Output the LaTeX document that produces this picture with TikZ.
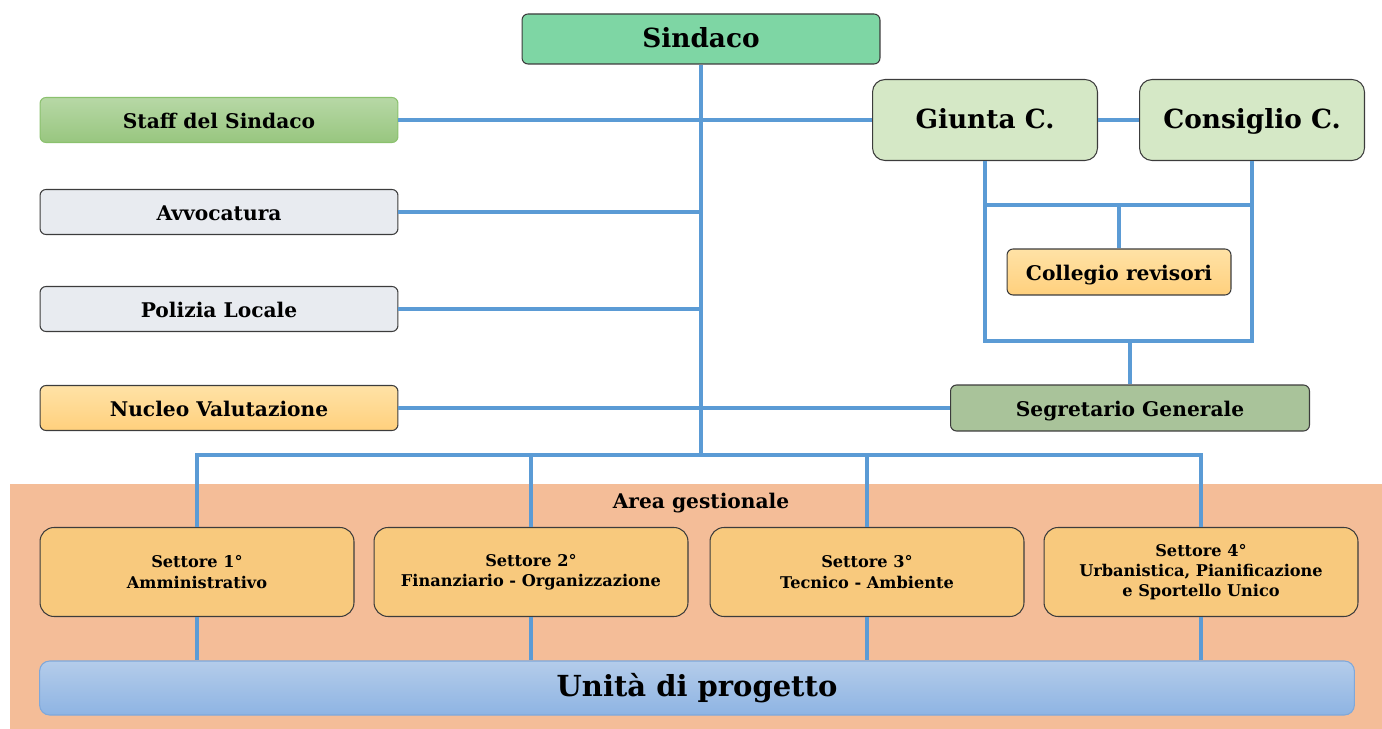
\documentclass[tikz,border=0pt]{standalone}
\usepackage{fontspec}
\setmainfont{DejaVu Serif}
\usetikzlibrary{calc}
\definecolor{linkblue}{HTML}{5B9BD5}
\definecolor{edgegray}{HTML}{3C3C3C}
\definecolor{areasalmon}{HTML}{F4BD98}
\definecolor{sindgreen}{HTML}{7ED6A4}
\definecolor{giuntagreen}{HTML}{D5E8C6}
\definecolor{seggreen}{HTML}{A9C39A}
\definecolor{greyblue}{HTML}{E8EBF0}
\definecolor{settoreorange}{HTML}{F8C97D}
\tikzset{
  box/.style={draw=edgegray, semithick, rounded corners=0.12cm, inner sep=0pt,
    text height=1.9ex, text depth=0pt, font=\fontsize{11.5}{13}\selectfont\bfseries},
  staffbox/.style={draw={rgb,255:red,139;green,193;blue,110},
    top color={rgb,255:red,183;green,216;blue,166},
    bottom color={rgb,255:red,152;green,198;blue,127}},
  greybox/.style={fill=greyblue},
  yellowbox/.style={top color={rgb,255:red,255;green,226;blue,166},
    bottom color={rgb,255:red,255;green,208;blue,125}},
  bigbox/.style={box, rounded corners=0.25cm, fill=giuntagreen,
    minimum width=4.5cm, minimum height=1.62cm, font=\fontsize{15}{17}\selectfont\bfseries},
  settbox/.style={box, rounded corners=0.28cm, fill=settoreorange, align=center,
    text height=, text depth=,
    minimum width=6.28cm, minimum height=1.78cm, font=\fontsize{9.2}{11.5}\selectfont\bfseries},
  link/.style={draw=linkblue, line width=2.3pt},
}
\newcommand*{\SideBoxes}[1]{% #1 = list of y/name/look/text
\foreach \y/\name/\look/\text in {#1} {
\node [box, \look, minimum width=7.16cm, minimum height=0.9cm]
(\name) at (219,\y) {\text};
}%
}
\newcommand*{\SettoreBoxes}[1]{% #1 = list of x/number/text
\foreach \x/\num/\text in {#1} {
\node [settbox] (s\num) at (\x,572) {\text};
}%
}
\begin{document}
\begin{tikzpicture}[x=0.02cm, y=-0.02cm]
\useasboundingbox (0,0) rectangle (1382,729);

% area gestionale
\fill [areasalmon] (10,484) rectangle (1382,729);
\node [font=\fontsize{11.5}{13}\selectfont\bfseries] (area) at (701,503) {Area gestionale};

% top of the chart
\node [box, fill=sindgreen, minimum width=7.16cm, minimum height=1cm,
  font=\fontsize{15}{17}\selectfont\bfseries] (sind) at (701,39) {Sindaco};
\node [bigbox] (giunta) at (985,120) {Giunta C.};
\node [bigbox] (cons) at (1252,120) {Consiglio C.};
\SideBoxes{120/staff/staffbox/{Staff del Sindaco},
  212/avv/greybox/{Avvocatura},
  309/pol/greybox/{Polizia Locale},
  408/nuc/yellowbox/{Nucleo Valutazione}}
\node [box, yellowbox, minimum width=4.48cm, minimum height=0.92cm] (rev) at (1119,272) {Collegio revisori};
\node [box, fill=seggreen, minimum width=7.18cm, minimum height=0.92cm] (seg) at (1130,408) {Segretario Generale};

% settori
\SettoreBoxes{197/1/{Settore 1°\\Amministrativo},
  531/2/{Settore 2°\\Finanziario - Organizzazione},
  867/3/{Settore 3°\\Tecnico - Ambiente},
  1201/4/{Settore 4°\\Urbanistica, Pianificazione\\e Sportello Unico}}
\node [box, draw={rgb,255:red,127;green,168;blue,218}, rounded corners=0.2cm,
  top color={rgb,255:red,180;green,204;blue,234}, bottom color={rgb,255:red,142;green,180;blue,227},
  minimum width=26.3cm, minimum height=1.08cm,
  font=\fontsize{16.5}{19}\selectfont\bfseries] (unita) at (697,688) {Unità di progetto};

% connectors
\coordinate (bus) at (701,455);
\coordinate (mid) at (1119,205);
\coordinate (loop) at (1130,341);
\draw [link] (sind.south) -- (bus);
\draw [link] (staff.east) -- (giunta.west);
\draw [link] (giunta.east) -- (cons.west);
\foreach \name in {avv,pol}
  \draw [link] (\name.east) -- (\name.east -| sind.south);
\draw [link] (nuc.east) -- (seg.west);
\draw [link] (giunta.south) |- (loop) -| (cons.south);
\draw [link] (giunta.south |- mid) -- (cons.south |- mid);
\draw [link] (mid) -- (rev.north);
\draw [link] (seg.north) -- (loop);
\draw [link] (s1.north) |- (bus) -| (s4.north);
\foreach \num in {2,3}
  \draw [link] (s\num.north) -- (s\num.north |- bus);
\foreach \num in {1,2,3,4}
  \draw [link] (s\num.south) -- (s\num.south |- unita.north);

\end{tikzpicture}
\end{document}
